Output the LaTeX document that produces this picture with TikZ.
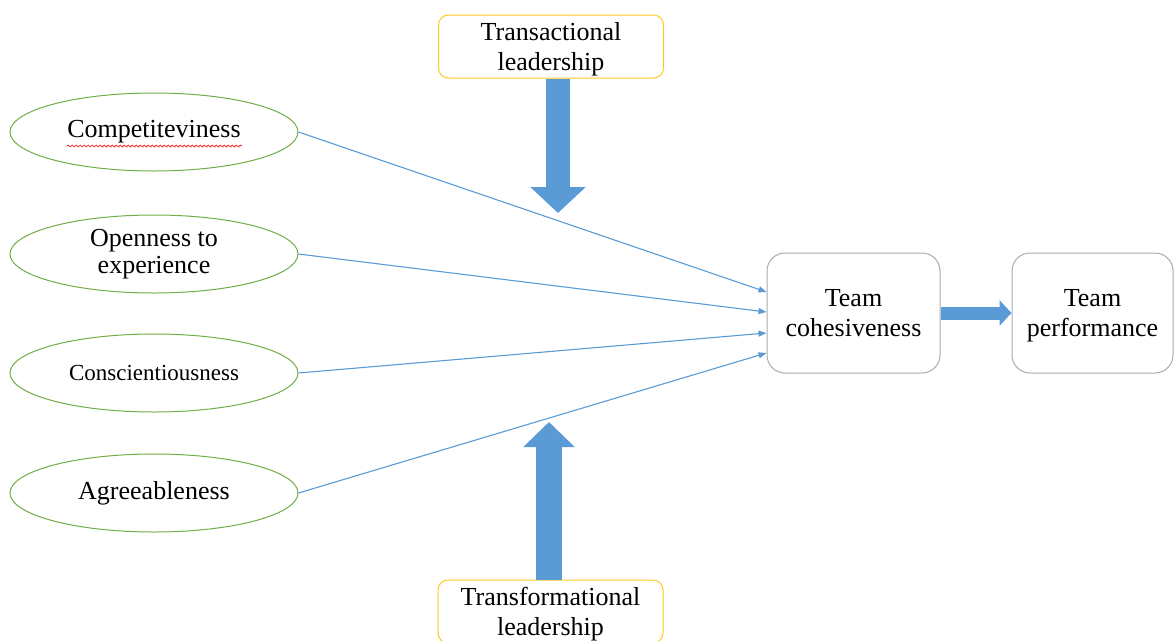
\documentclass[tikz,border=0pt]{standalone}
\usepackage{fontspec}
\setmainfont{Liberation Serif}
\usetikzlibrary{shapes.geometric,arrows.meta,decorations.pathmorphing,calc}
\definecolor{blu}{RGB}{91,155,213}
\definecolor{verde}{RGB}{112,173,71}
\definecolor{giallo}{RGB}{255,200,30}
\definecolor{grigio}{RGB}{170,170,170}

\begin{document}
\begin{tikzpicture}[x=1pt, y=-1pt,
        font=\fontsize{26}{30}\selectfont,
        tratto/.style={ellipse, draw=verde, line width=1pt, minimum width=288pt, minimum height=78pt, align=center, inner sep=0pt},
        guida/.style={rounded corners=10pt, draw=giallo, line width=1pt, minimum width=225pt, minimum height=63pt, align=center, inner sep=0pt, text depth=0pt},
        squadra/.style={rounded corners=18pt, draw=grigio, line width=1pt, minimum height=120pt, align=center, text depth=0pt},
        arco/.style={draw=blu, line width=1.1pt, -{Triangle[length=8pt, width=6pt]}},
        freccia/.style={draw=blu, line width=24pt, -{Triangle[length=26pt, width=54pt]}}]
        \useasboundingbox (0,0) rectangle (1174,640);

        % Nodi
        \node[tratto] (comp) at (154,132) {Competiteviness};
        \node[tratto, font=\fontsize{26}{27}\selectfont] (open) at (154,254) {Openness to\\experience};
        \node[tratto, font=\fontsize{23}{27}\selectfont] (cons) at (154,373) {Conscientiousness};
        \node[tratto] (agree) at (154,493) {Agreeableness};

        \node[guida] (tact) at (551,46.5) {Transactional\\leadership};
        \node[guida] (tform) at (550.5,611.5) {Transformational\\leadership};

        \node[squadra, minimum width=173pt] (coesione) at (853.5,313) {Team\\cohesiveness};
        \node[squadra, minimum width=161pt] (prestazione) at (1092.5,313) {Team\\performance};

        \coordinate (punta1) at (558,213);
        \coordinate (punta2) at (549,422);

        % Archi
        \draw[arco] (comp.east) -- ($(coesione.west)+(0,-21)$);
        \draw[arco] (open.east) -- ($(coesione.west)+(0,-1)$);
        \draw[arco] (cons.east) -- ($(coesione.west)+(0,20)$);
        \draw[arco] (agree.east) -- ($(coesione.west)+(0,40)$);

        % Frecce grandi
        \draw[freccia] (punta1 |- tact.south) -- (punta1);
        \draw[freccia, line width=26pt, -{Triangle[length=25pt, width=50pt]}] (punta2 |- tform.north) -- (punta2);
        \draw[freccia, line width=13pt, -{Triangle[length=12pt, width=25pt]}] (coesione) -- (prestazione);

        % sottolineatura rossa
        \draw[red, line width=0.7pt, decorate, decoration={snake, amplitude=1pt, segment length=4pt}] (67,146) -- (242,146);

    \end{tikzpicture}
\end{document}
